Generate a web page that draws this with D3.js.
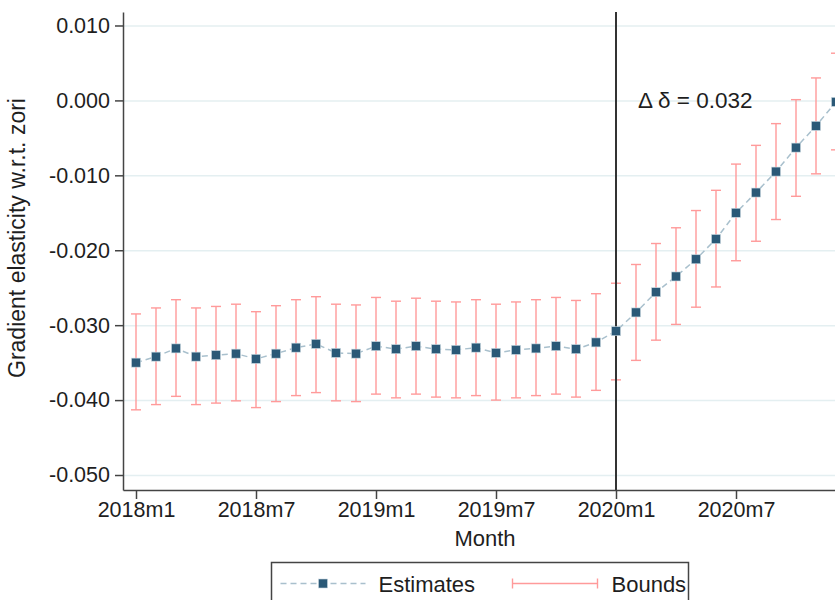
<!DOCTYPE html>
<meta charset="utf-8">
<style>
    body { margin: 0; background: #fff; }
    svg { font-family: "Liberation Sans", Arial, Helvetica, sans-serif; }
    .grid line { stroke: #e4eff1; stroke-width: 1.5; }
    .grid path { display: none; }
    .axis path, .axis line { stroke: #444; stroke-width: 1.5; }
    .axis text { font-size: 21.5px; fill: #1e1e1e; }
    .bound { stroke: #ff9a9a; stroke-width: 1.4; fill: none; }
    .est-line { stroke: #a9c0cd; stroke-width: 1.5; stroke-dasharray: 6 4; fill: none; }
    .est { fill: #2b5977; stroke: #c9d8e0; stroke-width: 0.6; }
</style>
<svg width="835" height="600"></svg>
<script src="https://cdn.jsdelivr.net/npm/d3@7"></script>
<script>

    // monthly categories
    var months = ["2018m1","2018m2","2018m3","2018m4","2018m5","2018m6","2018m7","2018m8","2018m9","2018m10","2018m11","2018m12",
                  "2019m1","2019m2","2019m3","2019m4","2019m5","2019m6","2019m7","2019m8","2019m9","2019m10","2019m11","2019m12",
                  "2020m1","2020m2","2020m3","2020m4","2020m5","2020m6","2020m7","2020m8","2020m9","2020m10","2020m11","2020m12"];

    var estimates = [-0.0350,-0.0342,-0.0331,-0.0342,-0.0340,-0.0338,-0.0345,-0.0338,-0.0330,-0.0325,-0.0337,-0.0338,
                     -0.0328,-0.0332,-0.0328,-0.0332,-0.0333,-0.0330,-0.0337,-0.0333,-0.0331,-0.0328,-0.0332,-0.0323,
                     -0.0308,-0.0283,-0.0256,-0.0235,-0.0212,-0.0185,-0.0150,-0.0123,-0.0095,-0.0063,-0.0034,-0.0002];

    var lower = [-0.0413,-0.0406,-0.0395,-0.0406,-0.0404,-0.0401,-0.0410,-0.0402,-0.0394,-0.0390,-0.0401,-0.0402,
                 -0.0392,-0.0397,-0.0392,-0.0396,-0.0397,-0.0394,-0.0400,-0.0397,-0.0394,-0.0392,-0.0396,-0.0387,
                 -0.0373,-0.0347,-0.0320,-0.0299,-0.0276,-0.0249,-0.0214,-0.0188,-0.0159,-0.0128,-0.0098,-0.0066];

    var upper = [-0.0285,-0.0277,-0.0266,-0.0277,-0.0275,-0.0272,-0.0282,-0.0274,-0.0266,-0.0262,-0.0272,-0.0273,
                 -0.0263,-0.0268,-0.0264,-0.0268,-0.0269,-0.0266,-0.0272,-0.0269,-0.0266,-0.0263,-0.0267,-0.0258,
                 -0.0244,-0.0219,-0.0191,-0.0170,-0.0147,-0.0120,-0.0085,-0.0060,-0.0031,0.0001,0.0030,0.0063];

    var xTicks = ["2018m1","2018m7","2019m1","2019m7","2020m1","2020m7"];
    var yTicks = [0.010, 0.000, -0.010, -0.020, -0.030, -0.040, -0.050];
    var breakMonth = "2020m1";
    var deltaLabel = "\u0394 \u03b4 = 0.032";

    var svg = d3.select("svg"),
        margin = {top: 12, left: 123},
        width = 712,
        height = 478,
        g = svg.append("g").attr("transform", "translate(" + margin.left + "," + margin.top + ")");

    var x = d3.scaleLinear().domain([-0.65, 34.95]).range([0, width]),
        y = d3.scaleLinear().domain([-0.052, 0.0118]).range([height, 0]);

    var data = months.map(function(m, i) {
        return {month: m, i: i, est: estimates[i], lo: lower[i], hi: upper[i]};
    });

    // stata style labels use a plain hyphen for negatives
    var fmt = function(v) { return d3.format(".3f")(v).replace("\u2212", "-"); };

    // horizontal gridlines
    g.append("g")
        .attr("class", "grid")
        .call(d3.axisLeft(y).tickValues(yTicks).tickSize(-width).tickFormat(""));

    // bounds
    var bar = g.selectAll(".bar")
        .data(data)
        .enter().append("g")
        .attr("class", "bar");

    bar.append("line")
        .attr("class", "bound")
        .attr("x1", function(d) { return x(d.i); })
        .attr("x2", function(d) { return x(d.i); })
        .attr("y1", function(d) { return y(d.lo); })
        .attr("y2", function(d) { return y(d.hi); });

    bar.selectAll(".cap")
        .data(function(d) { return [{i: d.i, v: d.lo}, {i: d.i, v: d.hi}]; })
        .enter().append("line")
        .attr("class", "bound")
        .attr("x1", function(d) { return x(d.i) - 5; })
        .attr("x2", function(d) { return x(d.i) + 5; })
        .attr("y1", function(d) { return y(d.v); })
        .attr("y2", function(d) { return y(d.v); });

    // break line at 2020m1
    var bi = months.indexOf(breakMonth);
    g.append("line")
        .attr("x1", x(bi)).attr("x2", x(bi))
        .attr("y1", 0).attr("y2", height)
        .attr("stroke", "#333")
        .attr("stroke-width", 2);

    // estimates
    var line = d3.line()
        .x(function(d) { return x(d.i); })
        .y(function(d) { return y(d.est); });

    g.append("path")
        .datum(data)
        .attr("class", "est-line")
        .attr("d", line);

    g.selectAll(".est")
        .data(data)
        .enter().append("rect")
        .attr("class", "est")
        .attr("x", function(d) { return x(d.i) - 4.5; })
        .attr("y", function(d) { return y(d.est) - 4.5; })
        .attr("width", 9)
        .attr("height", 9);

    // axes
    g.append("g")
        .attr("class", "axis")
        .call(d3.axisLeft(y)
            .tickValues(yTicks)
            .tickSize(8)
            .tickSizeOuter(0)
            .tickPadding(5)
            .tickFormat(fmt));

    g.append("g")
        .attr("class", "axis")
        .attr("transform", "translate(0," + height + ")")
        .call(d3.axisBottom(x)
            .tickValues(xTicks.map(function(t) { return months.indexOf(t); }))
            .tickSize(9)
            .tickSizeOuter(0)
            .tickPadding(3)
            .tickFormat(function(i) { return months[i]; }));

    // axis titles
    svg.append("text")
        .attr("x", 485)
        .attr("y", 546)
        .attr("text-anchor", "middle")
        .style("font-size", "22px")
        .attr("fill", "#1e1e1e")
        .text("Month");

    svg.append("text")
        .attr("transform", "translate(25,238) rotate(-90)")
        .attr("text-anchor", "middle")
        .style("font-size", "23px")
        .attr("fill", "#1e1e1e")
        .text("Gradient elasticity w.r.t. zori");

    // annotation
    g.append("text")
        .attr("x", x(bi) + 22)
        .attr("y", y(0) + 8)
        .style("font-size", "22.5px")
        .attr("fill", "#1e1e1e")
        .text(deltaLabel);

    // legend
    var legend = svg.append("g").attr("transform", "translate(271.5,562.5)");

    legend.append("rect")
        .attr("width", 417)
        .attr("height", 60)
        .attr("fill", "#fff")
        .attr("stroke", "#444")
        .attr("stroke-width", 1.5);

    legend.append("line")
        .attr("class", "est-line")
        .attr("x1", 9).attr("x2", 94)
        .attr("y1", 21).attr("y2", 21);

    legend.append("rect")
        .attr("class", "est")
        .attr("x", 47).attr("y", 16.5)
        .attr("width", 9).attr("height", 9);

    legend.append("text")
        .attr("x", 107).attr("y", 29)
        .style("font-size", "22px")
        .attr("fill", "#1e1e1e")
        .text("Estimates");

    legend.append("line")
        .attr("class", "bound")
        .attr("x1", 241).attr("x2", 326)
        .attr("y1", 21).attr("y2", 21);

    legend.selectAll(".lcap")
        .data([241, 326])
        .enter().append("line")
        .attr("class", "bound")
        .attr("x1", function(d) { return d; })
        .attr("x2", function(d) { return d; })
        .attr("y1", 16).attr("y2", 26);

    legend.append("text")
        .attr("x", 340).attr("y", 29)
        .style("font-size", "22px")
        .attr("fill", "#1e1e1e")
        .text("Bounds");

</script>
